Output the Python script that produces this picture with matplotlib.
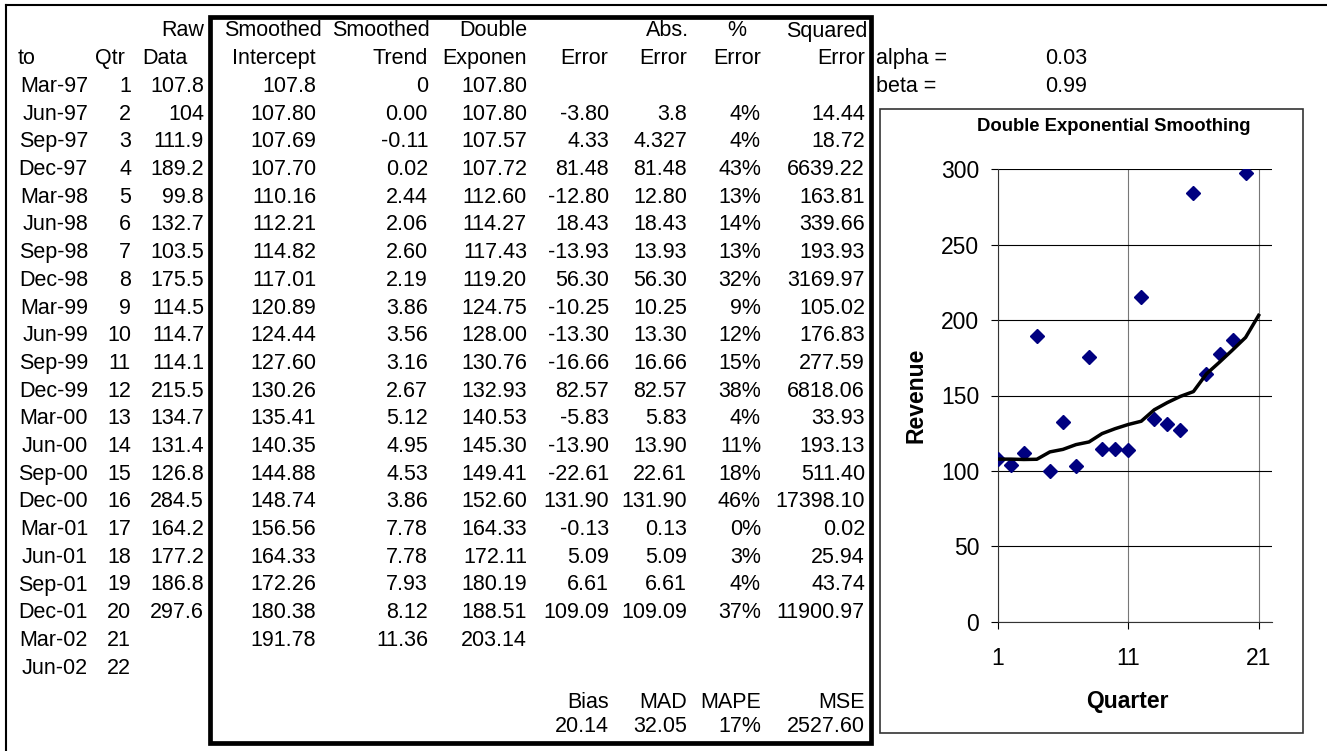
import numpy as np
import matplotlib.pyplot as plt
from matplotlib.patches import Rectangle
from matplotlib.lines import Line2D

plt.rcParams['font.family'] = ['Liberation Sans', 'DejaVu Sans']

# Spreadsheet data
dates = ['Mar-97', 'Jun-97', 'Sep-97', 'Dec-97', 'Mar-98', 'Jun-98', 'Sep-98', 'Dec-98',
         'Mar-99', 'Jun-99', 'Sep-99', 'Dec-99', 'Mar-00', 'Jun-00', 'Sep-00', 'Dec-00',
         'Mar-01', 'Jun-01', 'Sep-01', 'Dec-01', 'Mar-02', 'Jun-02']
quarters = list(range(1, 23))
raw_data = [107.8, 104, 111.9, 189.2, 99.8, 132.7, 103.5, 175.5, 114.5, 114.7, 114.1,
            215.5, 134.7, 131.4, 126.8, 284.5, 164.2, 177.2, 186.8, 297.6]
intercept = [107.8, 107.80, 107.69, 107.70, 110.16, 112.21, 114.82, 117.01, 120.89, 124.44,
             127.60, 130.26, 135.41, 140.35, 144.88, 148.74, 156.56, 164.33, 172.26, 180.38,
             191.78]
trend = [0, 0.00, -0.11, 0.02, 2.44, 2.06, 2.60, 2.19, 3.86, 3.56, 3.16, 2.67, 5.12, 4.95,
         4.53, 3.86, 7.78, 7.78, 7.93, 8.12, 11.36]
forecast = [107.80, 107.80, 107.57, 107.72, 112.60, 114.27, 117.43, 119.20, 124.75, 128.00,
            130.76, 132.93, 140.53, 145.30, 149.41, 152.60, 164.33, 172.11, 180.19, 188.51,
            203.14]
error = [None, -3.80, 4.33, 81.48, -12.80, 18.43, -13.93, 56.30, -10.25, -13.30, -16.66,
         82.57, -5.83, -13.90, -22.61, 131.90, -0.13, 5.09, 6.61, 109.09]
abs_error = [None, 3.8, 4.327, 81.48, 12.80, 18.43, 13.93, 56.30, 10.25, 13.30, 16.66,
             82.57, 5.83, 13.90, 22.61, 131.90, 0.13, 5.09, 6.61, 109.09]
pct_error = [None, 4, 4, 43, 13, 14, 13, 32, 9, 12, 15, 38, 4, 11, 18, 46, 0, 3, 4, 37]
sq_error = [None, 14.44, 18.72, 6639.22, 163.81, 339.66, 193.93, 3169.97, 105.02, 176.83,
            277.59, 6818.06, 33.93, 193.13, 511.40, 17398.10, 0.02, 25.94, 43.74, 11900.97]
stat_names = ['Bias', 'MAD', 'MAPE', 'MSE']
stat_values = ['20.14', '32.05', '17%', '2527.60']
alpha = 0.03
beta = 0.99

W, H = 1327, 751
fig = plt.figure(figsize=(W / 100, H / 100), dpi=100)

FS = 15.5
row0 = 31
step = 27.7


def row_y(i):
    return row0 + i * step


def cell_at(x, y, s, ha='right'):
    fig.text(x / W, 1 - y / H, s, ha=ha, va='center', fontsize=FS)


def cell(x, i, s, ha='right'):
    cell_at(x, row_y(i), s, ha)


def fmt2(v, general=False):
    if v is None:
        return ''
    return f'{v:g}' if general else f'{v:.2f}'


# header rows
cell(204, 0, 'Raw')
cell(322, 0, 'Smoothed')
cell(430, 0, 'Smoothed')
cell(527, 0, 'Double')
cell(689, 0, 'Abs.')
cell(737, 0, '%', ha='center')
cell(867, 0, 'Squared')

cell(18, 1, 'to', ha='left')
cell(125, 1, 'Qtr')
cell(142, 1, 'Data', ha='left')
cell(316, 1, 'Intercept')
cell(428, 1, 'Trend')
cell(527, 1, 'Exponen')
for x in [608, 687, 761, 865]:
    cell(x, 1, 'Error')
cell(876, 1, 'alpha =', ha='left')
cell(1045, 1, f'{alpha:.2f}', ha='left')
cell(876, 2, 'beta =', ha='left')
cell(1045, 2, f'{beta:.2f}', ha='left')

# data rows
for i, d in enumerate(dates):
    r = i + 2
    cell(88, r, d)
    cell(131, r, str(quarters[i]))
    if i < len(raw_data):
        cell(204, r, f'{raw_data[i]:g}')
    if i < len(intercept):
        cell(316, r, fmt2(intercept[i], general=(i == 0)))
        cell(428, r, fmt2(trend[i], general=(i == 0)))
        cell(527, r, fmt2(forecast[i]))
    if i < len(error):
        cell(609, r, fmt2(error[i]))
        cell(687, r, fmt2(abs_error[i], general=(i < 3)))
        cell(761, r, '' if pct_error[i] is None else f'{pct_error[i]}%')
        cell(865, r, fmt2(sq_error[i]))

for x, name, val in zip([609, 687, 761, 865], stat_names, stat_values):
    cell_at(x, 702, name)
    cell_at(x, 726, val)

# borders
fig.add_artist(Line2D([6 / W, 1], [1 - 5 / H, 1 - 5 / H], color='black', lw=1.5))
fig.add_artist(Line2D([6 / W, 6 / W], [0, 1 - 5 / H], color='black', lw=1.5))
fig.add_artist(Rectangle((210 / W, 1 - 742.5 / H), 661 / W, 726 / H, fill=False,
                         edgecolor='black', lw=3.4))
fig.add_artist(Rectangle((880 / W, 1 - 733 / H), 423 / W, 624 / H, fill=False,
                         edgecolor='#333333', lw=1.2))

# chart
ax = fig.add_axes([997.7 / W, 1 - 621.7 / H, 274 / W, 452.4 / H])
ax.plot(quarters[:len(raw_data)], raw_data, 'D', color='#000080', ms=7.5, zorder=3)
ax.plot(quarters[:len(forecast)], forecast, color='black', lw=2.5, zorder=4)
ax.set_xlim(1, 22)
ax.set_ylim(0, 300)
ax.set_xticks([1, 11, 21])
ax.set_yticks(np.arange(0, 301, 50))
ax.grid(axis='y', color='black', lw=0.8)
ax.grid(axis='x', color='#777777', lw=0.8)
ax.spines['top'].set_visible(False)
ax.spines['right'].set_visible(False)
ax.spines['left'].set_color('#333333')
ax.spines['bottom'].set_color('#333333')
ax.tick_params(axis='y', direction='out', length=5.2, width=0.8, pad=8, labelsize=16.5)
ax.tick_params(axis='x', direction='out', length=5.2, width=0.8, pad=13, labelsize=16.5)
ax.set_xlabel('Quarter', fontsize=16.5, fontweight='bold')
ax.set_ylabel('Revenue', fontsize=16.5, fontweight='bold')
ax.xaxis.set_label_coords(0.472, -0.176)
ax.xaxis.label.set_verticalalignment('center')
ax.yaxis.set_label_coords(-0.298, 0.5)
ax.yaxis.label.set_verticalalignment('center')
fig.text(1114 / W, 1 - 126.7 / H, 'Double Exponential Smoothing', ha='center', va='center',
         fontsize=13.3, fontweight='bold')

fig.savefig('out.png', dpi=100)
